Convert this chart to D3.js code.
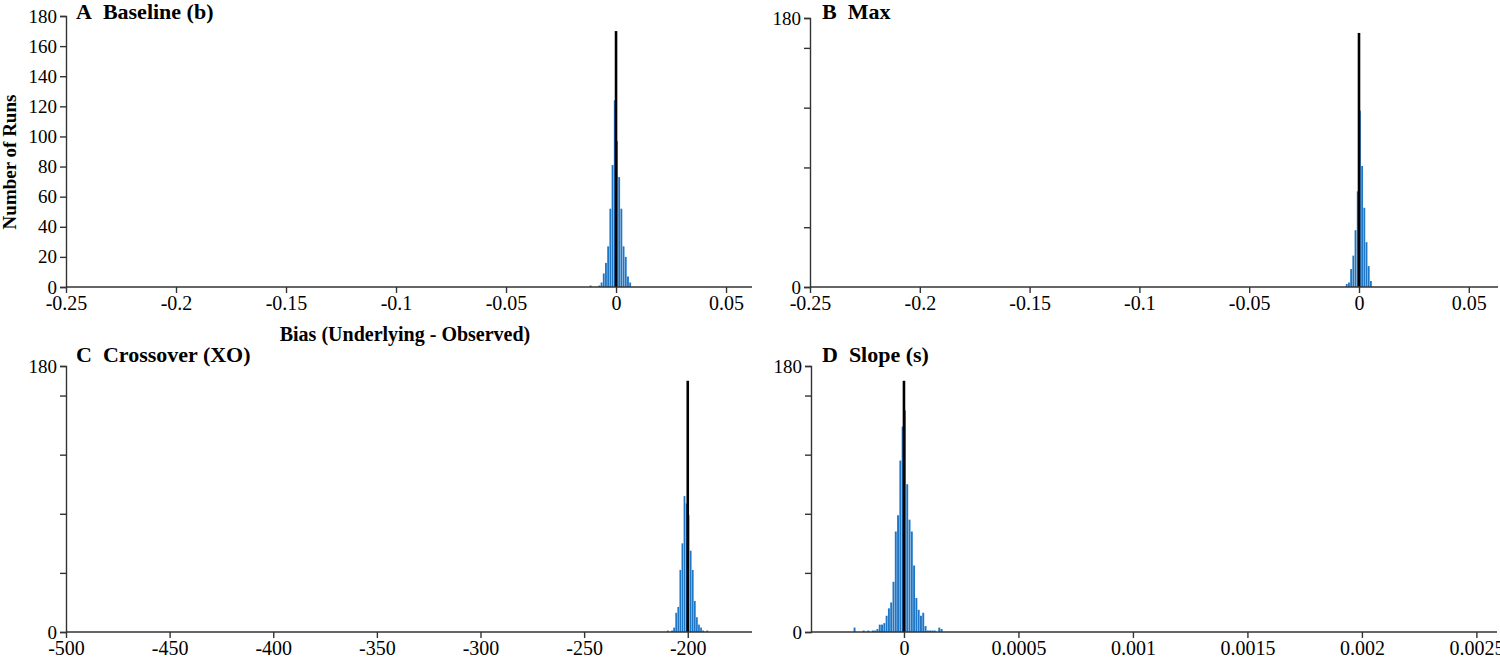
<!DOCTYPE html>
<html>
<head>
<meta charset="utf-8">
<script src="https://cdn.jsdelivr.net/npm/d3@7"></script>
<style>
  body { margin: 0; background: #fff; }
  svg text { font-family: "Liberation Serif", "Times New Roman", Times, serif; fill: #000; }
</style>
</head>
<body>
<svg id="chart" width="1500" height="660"></svg>
<script>
// ---- data ----
// A  Baseline (b): bin lower edges and counts (bin width 0.001)
var binsA   = [-0.012, -0.008, -0.007, -0.006, -0.005, -0.004, -0.003, -0.002, -0.001, 0, 0.001, 0.002, 0.003, 0.004, 0.005, 0.006];
var countsA = [1, 1, 3, 9, 16, 27, 52, 81, 124, 97, 73, 52, 27, 20, 7, 3];
var widthA  = 0.001;

// B  Max (bin width 0.001)
var binsB   = [-0.006, -0.005, -0.004, -0.003, -0.002, -0.001, 0, 0.001, 0.002, 0.003, 0.004, 0.005];
var countsB = [2, 3, 12, 21, 38, 64, 118, 81, 53, 30, 14, 4];
var widthB  = 0.001;

// C  Crossover (XO) (bin width 1)
var binsC   = [-210, -208, -207, -206, -205, -204, -203, -202, -201, -200, -199, -198, -197, -196, -195, -194, -193, -191];
var countsC = [1, 1, 3, 13, 17, 42, 60, 92, 87, 79, 55, 42, 21, 10, 5, 3, 1, 1];
var widthC  = 1;

// D  Slope (s) (bin width 0.00001)
var binsD   = [-0.00022, -0.00018, -0.00016, -0.00014, -0.00013, -0.00012, -0.00011, -0.0001, -0.00009, -0.00008,
               -0.00007, -0.00006, -0.00005, -0.00004, -0.00003, -0.00002, -0.00001, 0, 0.00001, 0.00002,
               0.00003, 0.00004, 0.00005, 0.00006, 0.00007, 0.00008, 0.00009, 0.0001, 0.00011, 0.00012,
               0.00013, 0.00015, 0.00016];
var countsD = [3, 1, 1, 1, 1, 2, 5, 5, 6, 11, 16, 20, 34, 68, 79, 116, 139, 150, 100, 76,
               68, 45, 23, 15, 11, 13, 4, 1, 1, 1, 1, 3, 2];
var widthD  = 0.00001;

// reference line (true value) and its height
var refX      = [0, 0, -200, 0];
var refHeight = [170, 170, 170, 170];

var titles = ["A\u00a0\u00a0Baseline (b)", "B\u00a0\u00a0Max", "C\u00a0\u00a0Crossover (XO)", "D\u00a0\u00a0Slope (s)"];

var ticksAB  = [-0.25, -0.2, -0.15, -0.1, -0.05, 0, 0.05];
var ticksC   = [-500, -450, -400, -350, -300, -250, -200];
var ticksD   = [0, 0.0005, 0.001, 0.0015, 0.002, 0.0025];
var yTicksA  = [0, 20, 40, 60, 80, 100, 120, 140, 160, 180];
var yTicksBCD = [0, 40, 80, 120, 160, 180];
var yLabelsBCD = [0, 180];

var serif = "'Liberation Serif', 'Times New Roman', Times, serif";
var svg = d3.select("#chart");

var panels = [
  { bins: binsA, counts: countsA, w: widthA, xd: [-0.25, 0.0618], xr: [66, 752], yr: [287, 16],
    xt: ticksAB, yt: yTicksA, yl: yTicksA, tx: 76, ty: 19 },
  { bins: binsB, counts: countsB, w: widthB, xd: [-0.25, 0.0633], xr: [810, 1498], yr: [287, 18],
    xt: ticksAB, yt: yTicksBCD, yl: yLabelsBCD, tx: 822, ty: 19 },
  { bins: binsC, counts: countsC, w: widthC, xd: [-500, -169], xr: [66, 752], yr: [632, 366],
    xt: ticksC, yt: yTicksBCD, yl: yLabelsBCD, tx: 76, ty: 362 },
  { bins: binsD, counts: countsD, w: widthD, xd: [-0.000406, 0.00259], xr: [811, 1497], yr: [632, 366],
    xt: ticksD, yt: yTicksBCD, yl: yLabelsBCD, tx: 822, ty: 362 }
];

panels.forEach(function(p, i) {
  var x = d3.scaleLinear().domain(p.xd).range(p.xr);
  var y = d3.scaleLinear().domain([0, 180]).range(p.yr);
  var g = svg.append("g");

  // bars
  var data = p.bins.map((b, j) => ({ x0: b, n: p.counts[j] }));
  g.append("g").selectAll("rect")
    .data(data)
    .enter()
    .append("rect")
    .attr("x", d => x(d.x0))
    .attr("y", d => y(d.n))
    .attr("width", d => Math.max(0.8, x(d.x0 + p.w) - x(d.x0) - 0.35))
    .attr("height", d => y(0) - y(d.n))
    .style("fill", "#1f77c6");

  // reference line
  g.append("line")
    .attr("x1", x(refX[i])).attr("x2", x(refX[i]))
    .attr("y1", y(0)).attr("y2", y(refHeight[i]))
    .style("stroke", "#000")
    .style("stroke-width", 2.6);

  // x axis
  var xa = g.append("g")
    .attr("transform", "translate(0," + y(0) + ")")
    .call(d3.axisBottom(x).tickValues(p.xt).tickFormat(d => String(d)).tickSizeOuter(0).tickSize(6).tickPadding(3));
  xa.attr("font-family", serif);
  xa.select(".domain").attr("d", "M" + p.xr[0] + ",0H" + p.xr[1]);
  xa.selectAll("text").style("font-size", "20px");

  // y axis
  var ya = g.append("g")
    .attr("transform", "translate(" + p.xr[0] + ",0)")
    .call(d3.axisLeft(y).tickValues(p.yt)
      .tickFormat(d => p.yl.indexOf(d) >= 0 ? String(d) : "")
      .tickSizeOuter(0).tickSize(6).tickPadding(3));
  ya.attr("font-family", serif);
  ya.selectAll("text").style("font-size", "19px");

  [xa, ya].forEach(function(a) {
    a.selectAll("path, line").style("stroke", "#333").style("stroke-width", 1.4);
    a.selectAll("text").style("font-family", serif).style("fill", "#000");
  });

  // panel title
  svg.append("text")
    .attr("x", p.tx).attr("y", p.ty)
    .style("font-family", serif)
    .style("font-size", "22px")
    .style("font-weight", "bold")
    .text(titles[i]);
});

// axis titles
svg.append("text")
  .attr("transform", "translate(16,162) rotate(-90)")
  .attr("text-anchor", "middle")
  .style("font-family", serif)
  .style("font-size", "19px")
  .style("font-weight", "bold")
  .text("Number of Runs");

svg.append("text")
  .attr("x", 405).attr("y", 341)
  .attr("text-anchor", "middle")
  .style("font-family", serif)
  .style("font-size", "20px")
  .style("font-weight", "bold")
  .text("Bias (Underlying - Observed)");
</script>
</body>
</html>
